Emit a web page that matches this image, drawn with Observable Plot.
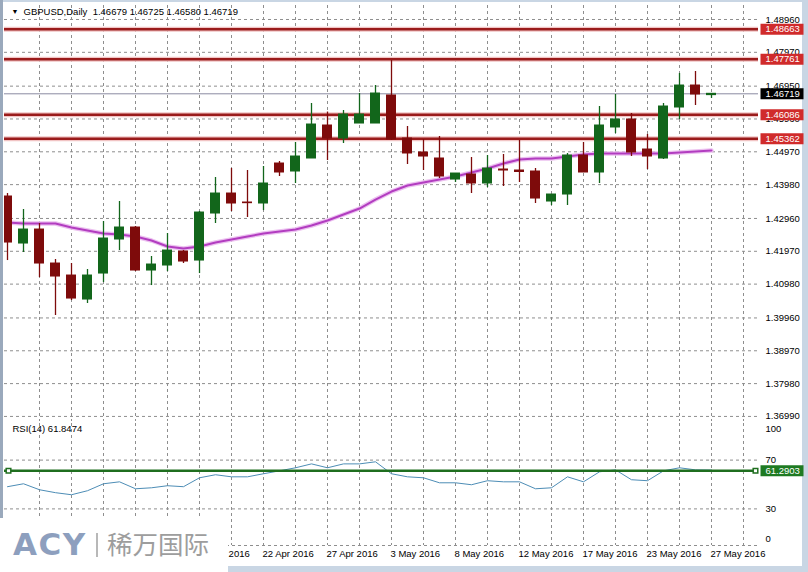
<!DOCTYPE html>
<html><head><meta charset="utf-8">
<script src="https://cdn.jsdelivr.net/npm/d3@7"></script>
<script src="https://cdn.jsdelivr.net/npm/@observablehq/plot@0.6"></script>
<style>
html,body{margin:0;padding:0;background:#c9d6e4;}
#wrap{position:relative;width:808px;height:572px;overflow:hidden;background:#c9d6e4;}
#lb{position:absolute;left:0;top:0;width:3px;height:572px;background:#9aa9bc;}
#paper{position:absolute;left:3px;top:2px;width:799px;height:564px;background:#fff;}
#price,#rsi{position:absolute;left:0;}
#price{top:0}
#rsi{top:421px}
#wm{position:absolute;left:0;top:518px;width:228px;height:54px;background:#fff;}
#wm .acy{position:absolute;left:13px;top:11px;font:bold 31px/1 "DejaVu Sans",sans-serif;letter-spacing:1.5px;color:#8d9fbe;}
#wm .bar{position:absolute;left:96px;top:15px;width:2px;height:24px;background:#b8b8b8;}
#wm .cn{position:absolute;left:107px;top:12px;font:25.5px/1 "Noto Sans CJK SC",sans-serif;color:#9d9d9d;letter-spacing:0px;}
svg{overflow:visible}
</style></head><body>
<div id="wrap"><div id="lb"></div><div id="paper"></div><div id="price"></div><div id="rsi"></div>
<div id="wm"><span class="acy">ACY</span><span class="bar"></span><span class="cn">稀万国际</span></div></div>
<script>
// ---- data ----
const symbolName = "GBPUSD,Daily";
const dates = ["31 Mar 2016","1 Apr 2016","4 Apr 2016","5 Apr 2016","6 Apr 2016","7 Apr 2016","8 Apr 2016","11 Apr 2016","12 Apr 2016","13 Apr 2016","14 Apr 2016","15 Apr 2016","18 Apr 2016","19 Apr 2016","20 Apr 2016","21 Apr 2016","22 Apr 2016","24 Apr 2016","25 Apr 2016","26 Apr 2016","27 Apr 2016","28 Apr 2016","29 Apr 2016","2 May 2016","3 May 2016","4 May 2016","5 May 2016","6 May 2016","8 May 2016","9 May 2016","10 May 2016","11 May 2016","12 May 2016","13 May 2016","15 May 2016","16 May 2016","17 May 2016","18 May 2016","19 May 2016","20 May 2016","23 May 2016","24 May 2016","25 May 2016","26 May 2016","27 May 2016"];
const open  = [1.43622,1.42204,1.42626,1.41601,1.41239,1.40515,1.41299,1.42325,1.42687,1.41390,1.41541,1.41963,1.41691,1.43109,1.43712,1.43441,1.43411,1.44617,1.44376,1.44768,1.45763,1.45371,1.45823,1.45823,1.46668,1.45371,1.44949,1.44768,1.44134,1.44285,1.44014,1.44436,1.44406,1.44376,1.43471,1.43682,1.44858,1.44346,1.45703,1.45944,1.45039,1.44768,1.46306,1.46969,1.46679];
const high  = [1.43712,1.43230,1.42807,1.41722,1.41601,1.41420,1.42868,1.43471,1.42717,1.41812,1.42506,1.41993,1.43169,1.44195,1.44466,1.44406,1.44527,1.44677,1.45250,1.46427,1.46170,1.46215,1.46728,1.46969,1.47723,1.45733,1.45341,1.45431,1.44315,1.44798,1.44858,1.44888,1.45311,1.44466,1.43682,1.44919,1.45250,1.46336,1.46698,1.46125,1.45492,1.46427,1.47331,1.47392,1.46725];
const low   = [1.41691,1.41933,1.41179,1.40033,1.40485,1.40395,1.41028,1.41993,1.41360,1.40937,1.41360,1.41601,1.41299,1.42807,1.43169,1.42988,1.43199,1.44225,1.44014,1.44768,1.44707,1.45220,1.45823,1.45823,1.45311,1.44587,1.44406,1.44165,1.44044,1.43712,1.43893,1.43923,1.44044,1.43411,1.43350,1.43350,1.44346,1.44014,1.45522,1.44828,1.44436,1.44738,1.45944,1.46366,1.46580];
const close = [1.42234,1.42626,1.41601,1.41209,1.40545,1.41239,1.42355,1.42687,1.41390,1.41571,1.41993,1.41661,1.43139,1.43712,1.43411,1.43421,1.44014,1.44346,1.44828,1.45793,1.45371,1.46095,1.46095,1.46728,1.45341,1.44919,1.44828,1.44225,1.44315,1.44014,1.44466,1.44406,1.44361,1.43561,1.43682,1.44858,1.44346,1.45763,1.45944,1.44949,1.44828,1.46336,1.46969,1.46698,1.46719];
const ma    = [1.42838,1.42807,1.42807,1.42807,1.42687,1.42596,1.42506,1.42476,1.42415,1.42295,1.42114,1.42053,1.42114,1.42234,1.42325,1.42415,1.42506,1.42566,1.42626,1.42747,1.42898,1.43079,1.43260,1.43531,1.43772,1.43953,1.44044,1.44134,1.44225,1.44346,1.44466,1.44617,1.44738,1.44768,1.44768,1.44828,1.44888,1.44919,1.44919,1.44919,1.44919,1.44919,1.44949,1.44979,1.45009];
const rsi   = [48.2,50.6,45.7,43.3,41.6,44.9,50.6,52.2,46.5,47.3,49.0,48.2,55.5,58.0,56.3,56.3,58.8,61.2,63.7,66.9,63.7,66.9,66.9,68.6,58.8,56.3,55.5,51.4,51.4,49.8,53.1,52.2,52.2,46.5,47.3,56.3,52.2,60.4,62.0,53.9,53.1,61.2,63.7,62.0,61.8474];
const priceTicks = [1.48960,1.47970,1.46950,1.45960,1.44970,1.43980,1.42960,1.41970,1.40980,1.39960,1.38970,1.37980,1.36990];
const levels = [1.48663,1.47761,1.46086,1.45362];
const rsiTicks = [100,70,30,0];
const rsiLevel = 61.2903;
const rsiName = "RSI(14)";

// ---- styling ----
const BULL = "#12661b", BEAR = "#7e0b0b", GRID = "#8e8e8e";
const FONT = "'Liberation Sans', Arial, sans-serif";
const n = dates.length;
const bars = dates.map((d, i) => ({i, date: d, open: open[i], high: high[i], low: low[i], close: close[i], ma: ma[i], rsi: rsi[i], col: close[i] >= open[i] ? BULL : BEAR}));
const last = bars[n - 1];
const xDomain = [-0.1875, 46.9375];
const gridIdx = d3.range(2, 47, 2);
const labelIdx = d3.range(12, n, 4); // earlier labels lie under the watermark
const box = (w, h) => ({draw(ctx) { ctx.rect(-w / 2, -h / 2, w, h); }});
const dashed = {stroke: GRID, strokeDasharray: "3,3", strokeWidth: 1};
const baseStyle = {background: "transparent", fontFamily: FONT, fontSize: "9.5px", color: "#000", overflow: "visible"};

const price = Plot.plot({
  width: 808, height: 421, marginTop: 5, marginBottom: 0, marginLeft: 4, marginRight: 50,
  style: baseStyle,
  x: {domain: xDomain, axis: null},
  y: {domain: [1.36837, 1.49382], axis: null},
  marks: [
    Plot.ruleY(priceTicks, dashed),
    Plot.ruleX(gridIdx, dashed),
    Plot.text(priceTicks, {y: d => d, text: d => d.toFixed(5), frameAnchor: "right", dx: 7, textAnchor: "start", fill: "#000"}),
    Plot.ruleY(levels, {stroke: "#f1c4c4", strokeWidth: 5}),
    Plot.ruleY(levels, {stroke: "#9a1b1b", strokeWidth: 2.5}),
    Plot.ruleY([last.close], {stroke: "#8a8aa2", strokeWidth: 1}),
    Plot.line(bars, {x: "i", y: "ma", stroke: "#ecc1f0", strokeWidth: 4.5, curve: "linear"}),
    Plot.line(bars, {x: "i", y: "ma", stroke: "#b23dc0", strokeWidth: 2, curve: "linear"}),
    Plot.ruleX(bars, {x: "i", y1: "low", y2: "high", stroke: "col", strokeWidth: 1.3, clip: true}),
    Plot.rect(bars, {x1: d => d.i - 0.3125, x2: d => d.i + 0.3125, y1: "open", y2: "close", fill: "col", insetTop: -0.5, insetBottom: -0.5, clip: true}),
    Plot.dot(levels, {y: d => d, frameAnchor: "right", dx: 23.5, symbol: box(43, 11), r: 1, fill: "#d02b2b"}),
    Plot.text(levels, {y: d => d, text: d => d.toFixed(5), frameAnchor: "right", dx: 7, textAnchor: "start", fill: "#fff"}),
    Plot.dot([last.close], {y: d => d, frameAnchor: "right", dx: 23.5, symbol: box(43, 11), r: 1, fill: "#000"}),
    Plot.text([last.close], {y: d => d, text: d => d.toFixed(5), frameAnchor: "right", dx: 7, textAnchor: "start", fill: "#fff"}),
    Plot.text(["▼"], {text: d => d, frameAnchor: "top-left", dx: 7, dy: 4, lineAnchor: "top", textAnchor: "start", fontSize: 7, fill: "#000"}),
    Plot.text([`${symbolName}\u00a0\u00a0${last.open.toFixed(5)} ${last.high.toFixed(5)} ${last.low.toFixed(5)} ${last.close.toFixed(5)}`], {text: d => d, frameAnchor: "top-left", dx: 19, dy: 3, lineAnchor: "top", textAnchor: "start", fill: "#000"})
  ]
});
document.getElementById("price").appendChild(price);

const rsiPlot = Plot.plot({
  width: 808, height: 145, marginTop: 2, marginBottom: 21, marginLeft: 4, marginRight: 50,
  style: baseStyle,
  x: {domain: xDomain, axis: null},
  y: {domain: [0, 100], axis: null},
  marks: [
    Plot.ruleY(rsiTicks.filter(d => d < 100), dashed),
    Plot.ruleX(gridIdx, dashed),
    Plot.text(rsiTicks.filter(d => d > 0 && d < 100), {y: d => d, text: d => String(d), frameAnchor: "right", dx: 7, textAnchor: "start", fill: "#000"}),
    Plot.text(rsiTicks.filter(d => d === 100), {y: d => d, text: d => String(d), frameAnchor: "right", dx: 7, dy: 5, textAnchor: "start", fill: "#000"}),
    Plot.text(rsiTicks.filter(d => d === 0), {y: d => d, text: d => String(d), frameAnchor: "right", dx: 7, dy: -7, textAnchor: "start", fill: "#000"}),
    Plot.line(bars, {x: "i", y: "rsi", stroke: "#4d8db6", strokeWidth: 1}),
    Plot.ruleY([rsiLevel], {stroke: "#1f6e1f", strokeWidth: 2.5}),
    Plot.dot([rsiLevel], {y: d => d, frameAnchor: "left", dx: 4, symbol: "square", r: 2.6, fill: "#fff", stroke: "#1f6e1f", strokeWidth: 1.5}),
    Plot.dot([rsiLevel], {y: d => d, frameAnchor: "right", dx: -3, symbol: "square", r: 2.6, fill: "#fff", stroke: "#1f6e1f", strokeWidth: 1.5}),
    Plot.dot([rsiLevel], {y: d => d, frameAnchor: "right", dx: 23.5, symbol: box(43, 11), r: 1, fill: "#1e7a22"}),
    Plot.text([rsiLevel], {y: d => d, text: d => d.toFixed(4), frameAnchor: "right", dx: 7, textAnchor: "start", fill: "#fff"}),
    Plot.text([`${rsiName} ${last.rsi.toFixed(4)}`], {text: d => d, frameAnchor: "top-left", dx: 8, dy: 2, lineAnchor: "top", textAnchor: "start", fill: "#000"}),
    Plot.text(labelIdx, {x: d => d, text: d => dates[d], frameAnchor: "bottom", dy: 5, dx: -1, lineAnchor: "top", textAnchor: "start", fill: "#000"})
  ]
});
document.getElementById("rsi").appendChild(rsiPlot);
</script>
</body></html>
